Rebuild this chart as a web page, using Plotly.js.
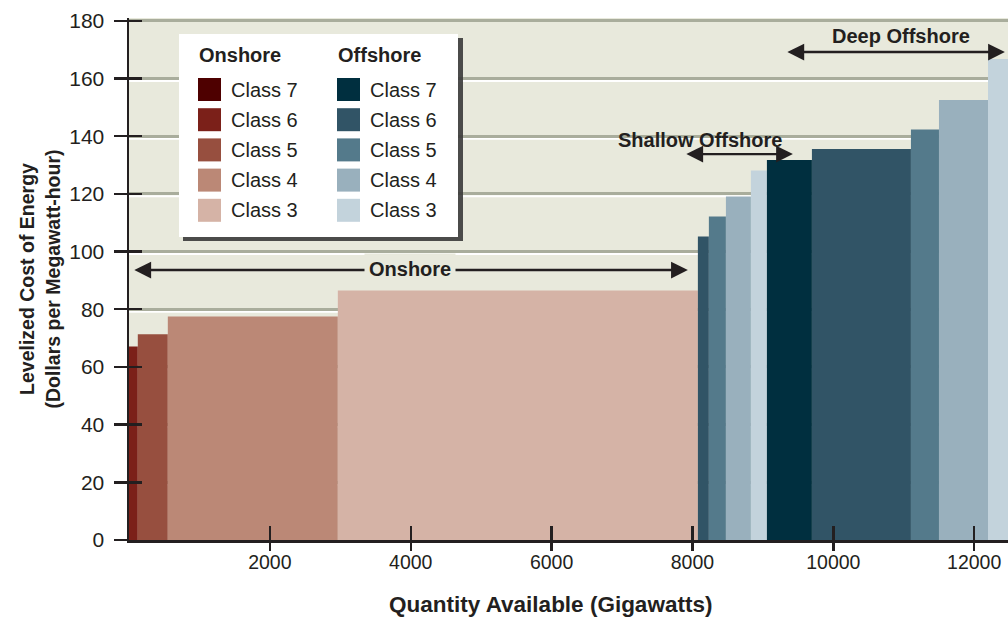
<!DOCTYPE html>
<html>
<head>
<meta charset="utf-8">
<script src="https://cdn.plot.ly/plotly-3.0.1.min.js"></script>
<style>html,body{margin:0;padding:0;background:#fff;}#chart{width:1008px;height:617px;}</style>
</head>
<body>
<div id="chart"></div>
<script>
// ---- data ----
const legendClasses = ['Class 7', 'Class 6', 'Class 5', 'Class 4', 'Class 3'];
const onshoreColors = ['#4e0000', '#7b2019', '#974f3f', '#bb8876', '#d5b3a6'];
const offshoreColors = ['#002f3f', '#315466', '#547a8b', '#99b0bd', '#c3d3dc'];

// supply curve, in order of cost
const barGroup = ['Onshore', 'Onshore', 'Onshore', 'Onshore',
                  'Offshore', 'Offshore', 'Offshore', 'Offshore',
                  'Offshore', 'Offshore', 'Offshore', 'Offshore', 'Offshore'];
const barClass = ['Class 6', 'Class 5', 'Class 4', 'Class 3',
                  'Class 6', 'Class 5', 'Class 4', 'Class 3',
                  'Class 7', 'Class 6', 'Class 5', 'Class 4', 'Class 3'];
const barQuantityGW = [125, 426, 2414, 5112, 156, 242, 355, 227, 639, 1406, 398, 696, 400];
const barCost = [67.1, 71.3, 77.5, 86.5, 105.2, 112.2, 119.1, 128.1, 131.8, 135.6, 142.3, 152.6, 166.8];

const yTickVals = [0, 20, 40, 60, 80, 100, 120, 140, 160, 180];
const xTickVals = [2000, 4000, 6000, 8000, 10000, 12000];

// ---- build ----
const ink = '#231f20';
const font = 'Liberation Sans, Arial, Helvetica, sans-serif';
const bg = '#e8e9dc';

let edge = 0;
const centers = [], colors = [];
barQuantityGW.forEach((w, i) => {
  centers.push(edge + w / 2);
  edge += w;
  const ci = legendClasses.indexOf(barClass[i]);
  colors.push(barGroup[i] === 'Onshore' ? onshoreColors[ci] : offshoreColors[ci]);
});

const traces = [{
  type: 'bar',
  x: centers,
  y: barCost,
  width: barQuantityGW,
  marker: {color: colors, line: {width: 0}},
  text: barGroup.map((g, i) => g + ' ' + barClass[i]),
  hoverinfo: 'text+y',
  textposition: 'none',
  showlegend: false
}];

const L = 129, T = 18, W = 1008, H = 617, B = 77;
const pw = W - L, ph = H - T - B;
const PX = p => (p - L) / pw;
const PY = p => (H - B - p) / ph;

const shapes = [];
// white highlight under each gridline
yTickVals.slice(1, -1).forEach(v => {
  shapes.push({type: 'line', xref: 'paper', yref: 'y', x0: 0, x1: 1, y0: v - 0.85, y1: v - 0.85,
    line: {color: '#ffffff', width: 2}, layer: 'below'});
});
// legend box with shadow
shapes.push({type: 'rect', xref: 'paper', yref: 'paper', x0: PX(183), x1: PX(463), y0: PY(38), y1: PY(241),
  fillcolor: '#3a3a3a', line: {width: 0}, opacity: 0.9, layer: 'above'});
shapes.push({type: 'rect', xref: 'paper', yref: 'paper', x0: PX(179), x1: PX(458), y0: PY(34), y1: PY(237),
  fillcolor: '#ffffff', line: {width: 0}, layer: 'above'});

const annotations = [];
const colX = [198, 337];
const headers = ['Onshore', 'Offshore'];
[onshoreColors, offshoreColors].forEach((cols, c) => {
  annotations.push({xref: 'paper', yref: 'paper', x: PX(colX[c] - 1), y: PY(55), xanchor: 'left', yanchor: 'middle',
    text: '<b>' + headers[c] + '</b>', showarrow: false, font: {family: font, size: 20, color: ink}});
  legendClasses.forEach((name, i) => {
    const cy = 89.5 + 30.2 * i;
    shapes.push({type: 'rect', xref: 'paper', yref: 'paper', x0: PX(colX[c]), x1: PX(colX[c] + 23),
      y0: PY(cy - 11.5), y1: PY(cy + 11.5), fillcolor: cols[i], line: {width: 0}, layer: 'above'});
    annotations.push({xref: 'paper', yref: 'paper', x: PX(colX[c] + 31), y: PY(cy), xanchor: 'left', yanchor: 'middle',
      text: name, showarrow: false, font: {family: font, size: 20, color: ink}});
  });
});

// region arrows
function arrow(x0, x1, y) {
  annotations.push({xref: 'x', yref: 'y', axref: 'x', ayref: 'y', x: x1, y: y, ax: x0, ay: y, text: '',
    showarrow: true, arrowside: 'end+start', arrowhead: 2, startarrowhead: 2, arrowsize: 1.4, startarrowsize: 1.4,
    arrowwidth: 2.4, arrowcolor: ink, standoff: 0, startstandoff: 0});
}
arrow(54, 7935, 93.6);
annotations.push({xref: 'x', yref: 'y', x: 3987, y: 93.8, text: '<b>Onshore</b>', showarrow: false,
  bgcolor: bg, borderpad: 4, font: {family: font, size: 20, color: ink}});
arrow(7892, 9426, 133.8);
annotations.push({xref: 'x', yref: 'y', x: 8105, y: 138.7, text: '<b>Shallow Offshore</b>', showarrow: false,
  font: {family: font, size: 20, color: ink}});
arrow(9326, 12436, 169.2);
annotations.push({xref: 'x', yref: 'y', x: 10959, y: 174.8, text: '<b>Deep Offshore</b>', showarrow: false,
  font: {family: font, size: 20, color: ink}});

// x axis title
annotations.push({xref: 'paper', yref: 'paper', x: PX(550), y: PY(604), xanchor: 'center', yanchor: 'middle',
  text: '<b>Quantity Available (Gigawatts)</b>', showarrow: false, font: {family: font, size: 22.5, color: ink}});

const xRange = [0, 12480];
const yRange = [0, 181];

const layout = {
  width: W, height: H,
  margin: {l: L, r: 0, t: T, b: B, pad: 0},
  paper_bgcolor: '#ffffff',
  plot_bgcolor: bg,
  font: {family: font, color: ink, size: 19},
  barmode: 'overlay',
  showlegend: false,
  xaxis: {
    range: xRange, tickvals: xTickVals, ticktext: xTickVals.map(String),
    ticks: 'inside', ticklen: 14, tickwidth: 2.4, tickcolor: ink,
    showline: true, linecolor: ink, linewidth: 2.5,
    showgrid: false, zeroline: false,
    tickfont: {family: font, size: 19.5, color: ink},
    ticklabelstandoff: 3
  },
  xaxis2: {
    overlaying: 'x', anchor: 'y', side: 'bottom', range: xRange, tickvals: xTickVals,
    ticks: 'outside', ticklen: 10, tickwidth: 2.4, tickcolor: ink,
    showticklabels: false, showgrid: false, zeroline: false, showline: false
  },
  yaxis: {
    range: yRange, tickvals: yTickVals,
    ticks: 'outside', ticklen: 13, tickwidth: 2.4, tickcolor: ink,
    showline: true, linecolor: ink, linewidth: 2.5,
    showgrid: true, gridcolor: '#a9ad9c', gridwidth: 3,
    zeroline: false,
    tickfont: {family: font, size: 21, color: ink},
    ticklabelstandoff: 5,
    title: {text: '<b>Levelized Cost of Energy<br>(Dollars per Megawatt-hour)</b>',
      font: {family: font, size: 19.5, color: ink}, standoff: 4}
  },
  yaxis2: {
    overlaying: 'y', anchor: 'x', side: 'left', range: yRange, tickvals: yTickVals,
    ticks: 'inside', ticklen: 13, tickwidth: 2.4, tickcolor: ink,
    showticklabels: false, showgrid: false, zeroline: false, showline: false
  },
  shapes: shapes,
  annotations: annotations
};

// invisible helper trace so the overlay axes are drawn
traces.push({type: 'scatter', x: [xRange[0]], y: [yRange[0]], xaxis: 'x2', yaxis: 'y2',
  mode: 'markers', marker: {opacity: 0}, hoverinfo: 'skip', showlegend: false});

Plotly.newPlot('chart', traces, layout, {displayModeBar: false, staticPlot: true});
</script>
</body>
</html>
